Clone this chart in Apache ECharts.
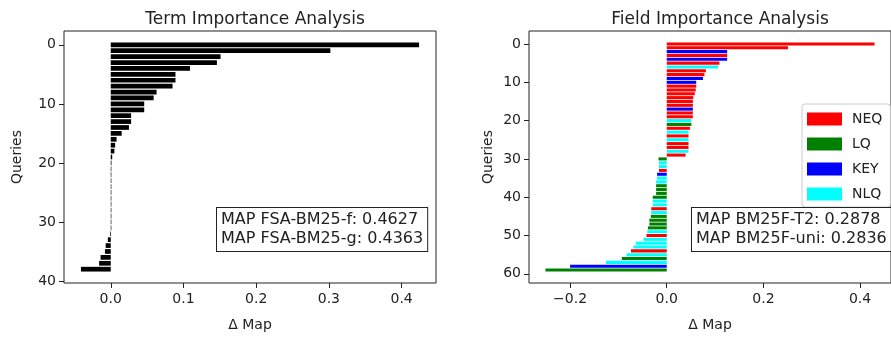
<!DOCTYPE html>
<html>
<head>
<meta charset="utf-8">
<script src="https://cdn.jsdelivr.net/npm/echarts@6/dist/echarts.min.js"></script>
<style>
  html, body { margin: 0; padding: 0; background: #fff; }
  #chart { width: 891px; height: 338px; }
</style>
</head>
<body>
<div id="chart"></div>
<script>
// Term importance: delta MAP per query (row 0 at top)
const termDelta = [
  0.424, 0.302, 0.151, 0.146, 0.109, 0.089, 0.089, 0.085, 0.063, 0.059,
  0.046, 0.046, 0.028, 0.028, 0.025, 0.015, 0.008, 0.006, 0.005, 0.002,
  0.001, 0, 0, 0, 0, 0, 0.0008, 0.0008, 0.0008, 0.0008,
  0.0008, 0.0008, -0.001, -0.004, -0.007, -0.008, -0.014, -0.016, -0.041
];

// Field importance: delta MAP per query, and which field it belongs to
const fieldDelta = [
  0.43, 0.251, 0.125, 0.125, 0.125, 0.109, 0.106, 0.081, 0.078, 0.075,
  0.061, 0.061, 0.060, 0.058, 0.055, 0.054, 0.054, 0.054, 0.054, 0.054,
  0.051, 0.051, 0.048, 0.045, 0.045, 0.045, 0.045, 0.045, 0.045, 0.039,
  -0.017, -0.016, -0.016, -0.016, -0.020, -0.020, -0.022, -0.022, -0.022, -0.022,
  -0.029, -0.029, -0.029, -0.032, -0.032, -0.033, -0.036, -0.036, -0.039, -0.040,
  -0.042, -0.048, -0.064, -0.069, -0.074, -0.083, -0.093, -0.126, -0.200, -0.251
];
const fieldType = [
  'NEQ', 'NEQ', 'KEY', 'NEQ', 'KEY', 'NEQ', 'NLQ', 'NEQ', 'NEQ', 'KEY',
  'KEY', 'NEQ', 'NEQ', 'NEQ', 'NEQ', 'NEQ', 'NEQ', 'KEY', 'NEQ', 'NEQ',
  'NLQ', 'LQ', 'NEQ', 'NLQ', 'NEQ', 'NLQ', 'NEQ', 'NEQ', 'NLQ', 'NEQ',
  'LQ', 'NLQ', 'NLQ', 'NEQ', 'KEY', 'NLQ', 'NLQ', 'LQ', 'LQ', 'LQ',
  'LQ', 'NLQ', 'NLQ', 'NEQ', 'NLQ', 'LQ', 'LQ', 'LQ', 'LQ', 'NLQ',
  'NEQ', 'NLQ', 'NLQ', 'NLQ', 'NEQ', 'NLQ', 'LQ', 'NLQ', 'KEY', 'LQ'
];
const fields = ['NEQ', 'LQ', 'KEY', 'NLQ'];
const fieldColors = ['#ff0000', '#008000', '#0000ff', '#00ffff'];

// tick labels
const termXTicks = [0, 0.1, 0.2, 0.3, 0.4];
const fieldXTicks = [-0.2, 0, 0.2, 0.4];
const termYTicks = [0, 10, 20, 30, 40];
const fieldYTicks = [0, 10, 20, 30, 40, 50, 60];

const termBox = ['MAP FSA-BM25-f: 0.4627', 'MAP FSA-BM25-g: 0.4363'];
const fieldBox = ['MAP BM25F-T2: 0.2878', 'MAP BM25F-uni: 0.2836'];

const font = 'DejaVu Sans';
const ink = '#222';

const chart = echarts.init(document.getElementById('chart'));

// horizontal bar drawn through the axes' scales
function barItem(params, api) {
  const v = api.value(0), q = api.value(1);
  const p0 = api.coord([0, q]);
  const p1 = api.coord([v, q]);
  const h = api.size([0, 0.8])[1];
  return {
    type: 'rect',
    shape: {
      x: Math.min(p0[0], p1[0]),
      y: p0[1] - h / 2,
      width: Math.max(Math.abs(p1[0] - p0[0]), 0.6),
      height: h
    },
    style: { fill: api.visual('color') }
  };
}

const fmt = v => (Math.abs(v) < 1e-9 ? '0.0' : v.toFixed(1).replace('-', '\u2212'));

function xAxisFor(gridIndex, min, max, ticks) {
  return {
    type: 'value', gridIndex, min, max, position: 'bottom',
    name: '\u0394 Map', nameLocation: 'middle', nameGap: 35,
    nameTextStyle: { color: ink, fontSize: 14, fontFamily: font },
    axisLine: { show: false, onZero: false },
    axisTick: { show: true, length: 5, lineStyle: { color: ink }, customValues: ticks },
    axisLabel: { color: ink, fontSize: 14, fontFamily: font, margin: 9, customValues: ticks, formatter: fmt },
    splitLine: { show: false }
  };
}

function yAxisFor(gridIndex, min, max, ticks, gap) {
  return {
    type: 'value', gridIndex, min, max, inverse: true, position: 'left',
    name: 'Queries', nameLocation: 'middle', nameGap: gap,
    nameTextStyle: { color: ink, fontSize: 14, fontFamily: font },
    axisLine: { show: false, onZero: false },
    axisTick: { show: true, length: 5, lineStyle: { color: ink }, customValues: ticks },
    axisLabel: { color: ink, fontSize: 14, fontFamily: font, margin: 8, customValues: ticks },
    splitLine: { show: false }
  };
}

const fieldSeries = fields.map((f, k) => ({
  name: f,
  type: 'custom',
  xAxisIndex: 1,
  yAxisIndex: 1,
  renderItem: barItem,
  itemStyle: { color: fieldColors[k] },
  data: fieldDelta.map((v, i) => [v, i]).filter((_, i) => fieldType[i] === f)
}));

const boxStyle = {
  font: '16px "DejaVu Sans"', fill: ink, lineHeight: 18.5,
  backgroundColor: '#fff', borderColor: ink, borderWidth: 1, padding: [3, 4, 3, 4]
};

const option = {
  animation: false,
  backgroundColor: '#fff',
  title: [
    { text: 'Term Importance Analysis', left: 250, top: 6, textAlign: 'center',
      textStyle: { fontFamily: font, fontSize: 17, fontWeight: 'normal', color: ink } },
    { text: 'Field Importance Analysis', left: 715, top: 6, textAlign: 'center',
      textStyle: { fontFamily: font, fontSize: 17, fontWeight: 'normal', color: ink } }
  ],
  grid: [
    { left: 64, top: 31, width: 372, height: 252, show: true, borderColor: ink, borderWidth: 1 },
    { left: 529, top: 31, width: 372, height: 252, show: true, borderColor: ink, borderWidth: 1 }
  ],
  xAxis: [
    xAxisFor(0, -0.0643, 0.4473, termXTicks),
    xAxisFor(1, -0.285, 0.464, fieldXTicks)
  ],
  yAxis: [
    yAxisFor(0, -2.34, 40.34, termYTicks, 40),
    yAxisFor(1, -3.39, 62.39, fieldYTicks, 34)
  ],
  legend: {
    data: fields,
    orient: 'vertical',
    left: 802, top: 104,
    icon: 'rect',
    itemWidth: 35, itemHeight: 13, itemGap: 11,
    padding: [8, 8, 6, 5],
    borderColor: '#ccc', borderWidth: 1, borderRadius: 3,
    backgroundColor: 'rgba(255,255,255,0.8)',
    textStyle: { color: ink, fontSize: 14, fontFamily: font, padding: [0, 0, 0, 5] }
  },
  graphic: [
    { type: 'text', left: 216, top: 207, z: 10, style: Object.assign({ text: termBox.join('\n') }, boxStyle) },
    { type: 'text', left: 691, top: 207, z: 10, style: Object.assign({ text: fieldBox.join('\n') }, boxStyle) }
  ],
  series: [
    {
      name: 'term',
      type: 'custom',
      xAxisIndex: 0,
      yAxisIndex: 0,
      renderItem: barItem,
      itemStyle: { color: '#000' },
      data: termDelta.map((v, i) => [v, i])
    },
    ...fieldSeries
  ]
};

chart.setOption(option);
</script>
</body>
</html>
